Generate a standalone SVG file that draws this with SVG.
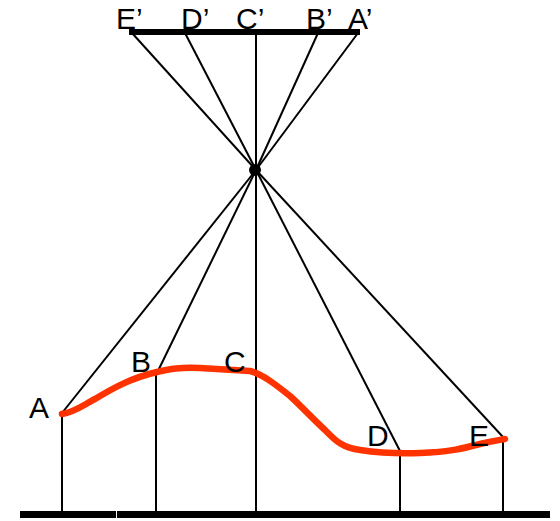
<svg xmlns="http://www.w3.org/2000/svg" width="560" height="521" viewBox="0 0 560 521">
<style>
.ln{stroke:#000;stroke-width:2;fill:none}
.bar{fill:#000}
.lbl{font-family:"Liberation Sans",Arial,sans-serif;font-size:30px;fill:#000}
.curve{stroke:#FF3300;stroke-width:6.5;fill:none;stroke-linecap:round;stroke-linejoin:round}
</style>
<rect width="560" height="521" fill="#fff"/>
<g id="connectors">
<line class="ln" x1="132" y1="33" x2="256" y2="170"/>
<line class="ln" x1="185" y1="33" x2="256" y2="170"/>
<line class="ln" x1="318" y1="33" x2="256" y2="170"/>
<line class="ln" x1="358" y1="33" x2="256" y2="170"/>
<line class="ln" x1="256" y1="33" x2="256" y2="513"/>
<line class="ln" x1="256" y1="170" x2="62" y2="413"/>
<line class="ln" x1="256" y1="170" x2="156" y2="375"/>
<line class="ln" x1="256" y1="170" x2="400" y2="451"/>
<line class="ln" x1="256" y1="170" x2="503" y2="437"/>
<line class="ln" x1="62" y1="413" x2="62" y2="513"/>
<line class="ln" x1="156" y1="373" x2="156" y2="513"/>
<line class="ln" x1="400" y1="451" x2="400" y2="513"/>
<line class="ln" x1="503" y1="437" x2="503" y2="513"/>
</g>
<g id="top-bar"><rect class="bar" x="129" y="29" width="231" height="6"/></g>
<g id="bottom-bar">
<rect class="bar" x="20" y="511" width="96" height="7"/>
<rect class="bar" x="117" y="511" width="433" height="7"/>
</g>
<g id="focal"><circle cx="255" cy="170" r="6" fill="#000"/></g>
<g id="curve"><path class="curve" d="M62,414 C75,412 85,404 95,399 C110,390 130,378 157,372 C170,369 180,367 200,368 L250,371 C262,374 275,384 290,396 C300,405 312,418 325,430 C335,440 342,448 360,450 C380,453 395,454 420,453 C450,452 465,448 480,444 C492,441 500,440 505,439"/></g>
<g id="labels">
<text class="lbl" x="116" y="29">E’</text>
<text class="lbl" x="181" y="29">D’</text>
<text class="lbl" x="236" y="29">C’</text>
<text class="lbl" x="306" y="29">B’</text>
<text class="lbl" x="348" y="29">A’</text>
<text class="lbl" x="29" y="418">A</text>
<text class="lbl" x="131" y="372">B</text>
<text class="lbl" x="224" y="372">C</text>
<text class="lbl" x="367" y="446">D</text>
<text class="lbl" x="469" y="446">E</text>
</g>
</svg>
